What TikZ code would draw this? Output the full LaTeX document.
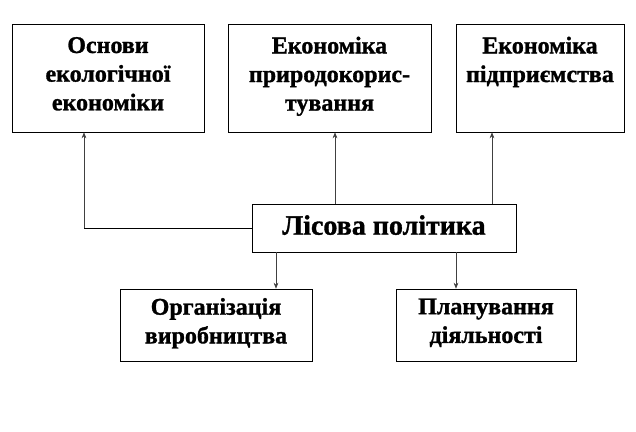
\documentclass[tikz,border=0pt]{standalone}
\usepackage{fontspec}
\setmainfont{Liberation Serif}
\newfontfamily\heavy{Liberation Serif Bold}[FakeBold=1.2]
\usetikzlibrary{arrows.meta}
\begin{document}
\begin{tikzpicture}[x=0.75pt,y=-0.75pt,
  box/.style={draw, thin, align=center, inner sep=0pt, font=\fontsize{18}{21.5}\heavy,
    execute at begin node=\strut, execute at end node=\strut},
  link/.style={draw=black!75, line width=0.5pt},
  arr/.style={link, -{Stealth[length=4.5pt,width=3.5pt]}}]
\useasboundingbox (0,0) rectangle (636,432);
\node[box, minimum width=144pt, minimum height=81pt] (osn) at (108,78){Основи\\екологічної\\економіки};
\node[box, minimum width=152.25pt, minimum height=81pt] (pryr) at (329.5,78){Економіка\\природокорис-\\тування};
\node[box, minimum width=126pt, minimum height=81pt] (pidpr) at (540,78){Економіка\\підприємства\\};
\node[box, minimum width=198pt, minimum height=36pt, font=\fontsize{21}{25}\heavy] (lis) at (384,228){Лісова політика};
\node[box, minimum width=144pt, minimum height=54pt] (org) at (216,325){Організація\\виробництва};
\node[box, minimum width=135pt, minimum height=54pt] (plan) at (486,325){Планування\\діяльності};
\coordinate (k1) at (84,228);
\coordinate (u2) at (335,0);
\coordinate (u3) at (492,0);
\coordinate (d1) at (276,0);
\coordinate (d2) at (456,0);
\draw[link, draw=black](lis.west) -- (k1);
\draw[arr](k1) -- (osn.south -| k1);
\draw[arr](lis.north -| u2) -- (pryr.south -| u2);
\draw[arr](lis.north -| u3) -- (pidpr.south -| u3);
\draw[arr](lis.south -| d1) -- (org.north -| d1);
\draw[arr](lis.south -| d2) -- (plan.north -| d2);
\end{tikzpicture}
\end{document}
